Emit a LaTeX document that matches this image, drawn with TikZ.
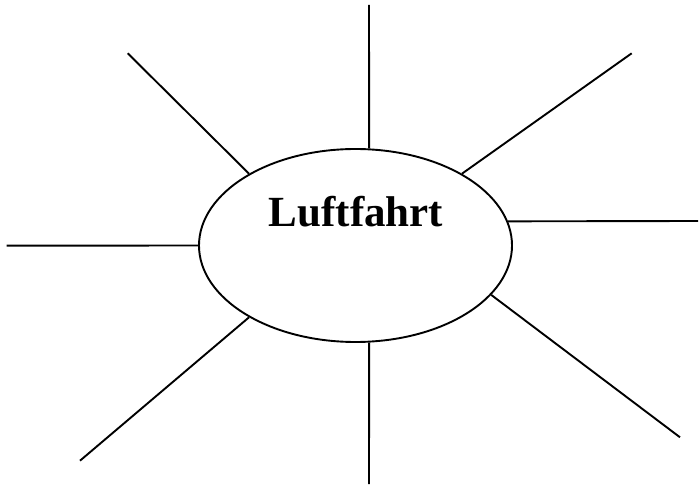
\documentclass[tikz,border=0pt]{standalone}
\usepackage{fontspec}
\setmainfont{Liberation Serif}
\usetikzlibrary{shapes.geometric}

\begin{document}
\begin{tikzpicture}[x=1pt, y=-1pt,
    hub/.style={ellipse, draw, line width=1.9pt, minimum width=313pt, minimum height=193pt, inner sep=0pt},
    ray/.style={line width=1.9pt}]
\useasboundingbox (0,0) rectangle (699,486);

\node[hub] (hub) at (355.5,245.5) {};
\node[font=\fontsize{43}{50}\selectfont\bfseries, anchor=base] (title) at (356,227) {Luftfahrt};

\coordinate (n) at (369,5);
\coordinate (nw) at (127.7,53.3);
\coordinate (ne) at (631.7,53.3);
\coordinate (e) at (698,221);
\coordinate (w) at (6.7,245.7);
\coordinate (sw) at (80,460.7);
\coordinate (s) at (369,484);
\coordinate (se) at (680,437.3);

\draw[ray] (hub.82) -- (n);
\draw[ray] (hub.146) -- (nw);
\draw[ray] (hub.34) -- (ne);
\draw[ray] (hub.9) -- (e);
\draw[ray] (hub.west) -- (w);
\draw[ray] (hub.214) -- (sw);
\draw[ray] (hub.278) -- (s);
\draw[ray] (hub.340) -- (se);

\end{tikzpicture}
\end{document}
